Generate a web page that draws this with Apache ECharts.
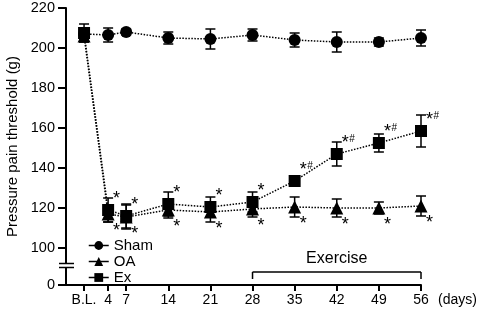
<!DOCTYPE html>
<html>
<head>
<meta charset="utf-8">
<script src="https://cdn.jsdelivr.net/npm/echarts@6/dist/echarts.min.js"></script>
<style>
	html, body { margin: 0; padding: 0; background: #fff; }
	#chart { width: 484px; height: 318px; }
</style>
</head>
<body>
<div id="chart"></div>
<script>
// days after induction (0 = baseline)
var days = [0, 4, 7, 14, 21, 28, 35, 42, 49, 56];
var dayLabels = ['B.L.', '4', '7', '14', '21', '28', '35', '42', '49', '56'];
var yTicks = [81.5, 100, 120, 140, 160, 180, 200, 220];

var shamMean = [207, 206.5, 208, 205, 204.5, 206.5, 204, 203, 203, 205];
var shamErr = [3, 3.5, 1.5, 3, 5, 3, 3.5, 5, 2, 4];
var oaMean = [206, 117, 115.5, 119, 118, 119.5, 120.5, 120, 120, 121];
var oaErr = [3, 4, 6, 4, 5, 4, 5, 4.5, 3, 5];
var exMean = [207.5, 119, 116, 122, 120.5, 123, 133.5, 147, 152.5, 158.5];
var exErr = [4.5, 6, 6, 6, 5, 5, 2.5, 6, 4.5, 8];

// significance marks
var oaMarks = ['', '*', '*', '*', '*', '*', '*', '*', '*', '*'];
var exMarks = ['', '*', '*', '*', '*', '*', '*#', '*#', '*#', '*#'];

var exerciseRange = [28, 56];

var FONT = 'Liberation Sans, Arial, sans-serif';

function pairs(mean) {
	return days.map(function(d, i) { return [d, mean[i]]; });
}

function errRows(mean, err) {
	return days.map(function(d, i) { return [d, mean[i] - err[i], mean[i] + err[i]]; });
}

function markRows(mean, marks) {
	return days.map(function(d, i) { return [d, mean[i], marks[i]]; });
}

function errorBarItem(params, api) {
	var x = api.value(0);
	var lo = api.coord([x, api.value(1)]);
	var hi = api.coord([x, api.value(2)]);
	var half = 5;
	var st = { stroke: '#000', lineWidth: 1.5 };
	return {
		type: 'group',
		children: [
			{ type: 'line', shape: { x1: lo[0], y1: lo[1], x2: hi[0], y2: hi[1] }, style: st },
			{ type: 'line', shape: { x1: lo[0] - half, y1: lo[1], x2: lo[0] + half, y2: lo[1] }, style: st },
			{ type: 'line', shape: { x1: hi[0] - half, y1: hi[1], x2: hi[0] + half, y2: hi[1] }, style: st }
		]
	};
}

// '*' drawn large, '#' small and raised next to it
function markItem(dy) {
	return function(params, api) {
		var p = api.coord([api.value(0), api.value(1)]);
		var mark = String(api.value(2));
		var kids = [];
		if (mark.indexOf('*') >= 0) {
			kids.push({
				type: 'text', x: p[0] + 5, y: p[1] + dy,
				style: { text: '*', fill: '#000', font: '18px ' + FONT, align: 'left', verticalAlign: 'middle' }
			});
		}
		if (mark.indexOf('#') >= 0) {
			kids.push({
				type: 'text', x: p[0] + 12.5, y: p[1] + dy - 4,
				style: { text: '#', fill: '#000', font: '10px ' + FONT, align: 'left', verticalAlign: 'middle' }
			});
		}
		return { type: 'group', children: kids };
	};
}

function lineSeries(name, symbol, mean, size) {
	return {
		name: name,
		type: 'line',
		data: pairs(mean),
		symbol: symbol,
		symbolSize: size,
		showAllSymbol: true,
		z: 5,
		lineStyle: { color: '#000', width: 1.5, type: 'dotted' },
		itemStyle: { color: '#000' },
		animation: false
	};
}

var chart = echarts.init(document.getElementById('chart'));

var option = {
	animation: false,
	textStyle: { fontFamily: FONT, color: '#000' },
	grid: { left: 66, right: 63, top: 8, bottom: 33, containLabel: false, outerBoundsMode: 'none' },
	legend: {
		data: ['Sham', 'OA', 'Ex'],
		orient: 'vertical',
		left: 83,
		top: 233,
		itemWidth: 20,
		itemHeight: 11,
		itemGap: 1,
		lineStyle: { type: 'solid', width: 1.5, color: '#000' },
		textStyle: { fontSize: 15, lineHeight: 15, color: '#000', fontFamily: FONT }
	},
	xAxis: {
		type: 'value',
		min: -3,
		max: 56,
		name: '(days)',
		nameLocation: 'end',
		nameGap: 17,
		nameTextStyle: { fontSize: 14, verticalAlign: 'top', padding: [8, 0, 0, 0] },
		splitLine: { show: false },
		axisLine: { onZero: false, lineStyle: { color: '#000', width: 2 } },
		axisTick: { customValues: days, length: 6, lineStyle: { color: '#000', width: 2 } },
		axisLabel: {
			customValues: days,
			fontSize: 14,
			color: '#000',
			margin: 8,
			formatter: function(v) {
				var i = days.indexOf(v);
				return i >= 0 ? dayLabels[i] : '';
			}
		}
	},
	yAxis: {
		type: 'value',
		min: 81.5,
		max: 220,
		name: 'Pressure pain threshold (g)',
		nameLocation: 'middle',
		nameGap: 44,
		nameTextStyle: { fontSize: 15 },
		splitLine: { show: false },
		axisLine: { onZero: false, lineStyle: { color: '#000', width: 2 } },
		axisTick: { customValues: yTicks, length: 8, lineStyle: { color: '#000', width: 2 } },
		axisLabel: {
			customValues: yTicks,
			fontSize: 14.5,
			color: '#000',
			margin: 11,
			formatter: function(v) { return v < 90 ? '0' : String(v); }
		}
	},
	graphic: [
		{ type: 'rect', shape: { x: 58, y: 264, width: 18, height: 3 }, style: { fill: '#fff' }, z: 100 },
		{ type: 'line', shape: { x1: 59, y1: 263.5, x2: 74, y2: 263.5 }, style: { stroke: '#000', lineWidth: 1.5 }, z: 101 },
		{ type: 'line', shape: { x1: 59, y1: 267.5, x2: 74, y2: 267.5 }, style: { stroke: '#000', lineWidth: 1.5 }, z: 101 }
	],
	series: [
		{ type: 'custom', renderItem: errorBarItem, data: errRows(shamMean, shamErr), encode: { x: 0, y: [1, 2] }, z: 3, silent: true },
		{ type: 'custom', renderItem: errorBarItem, data: errRows(oaMean, oaErr), encode: { x: 0, y: [1, 2] }, z: 3, silent: true },
		{ type: 'custom', renderItem: errorBarItem, data: errRows(exMean, exErr), encode: { x: 0, y: [1, 2] }, z: 3, silent: true },
		lineSeries('Sham', 'circle', shamMean, 12),
		lineSeries('OA', 'triangle', oaMean, 13),
		lineSeries('Ex', 'rect', exMean, 12),
		{ type: 'custom', renderItem: markItem(-11), data: markRows(exMean, exMarks), encode: { x: 0, y: 1 }, z: 6, silent: true },
		{ type: 'custom', renderItem: markItem(17), data: markRows(oaMean, oaMarks), encode: { x: 0, y: 1 }, z: 6, silent: true },
		{
			// exercise period bracket
			type: 'custom',
			silent: true,
			z: 6,
			data: [[exerciseRange[0], exerciseRange[1]]],
			encode: { x: [0, 1] },
			renderItem: function(params, api) {
				var a = api.coord([api.value(0), 88]);
				var b = api.coord([api.value(1), 88]);
				var st = { stroke: '#000', lineWidth: 1.5 };
				return {
					type: 'group',
					children: [
						{ type: 'line', shape: { x1: a[0], y1: a[1], x2: b[0], y2: b[1] }, style: st },
						{ type: 'line', shape: { x1: a[0], y1: a[1], x2: a[0], y2: a[1] + 7 }, style: st },
						{ type: 'line', shape: { x1: b[0], y1: b[1], x2: b[0], y2: b[1] + 7 }, style: st },
						{
							type: 'text', x: (a[0] + b[0]) / 2, y: a[1] - 13,
							style: { text: 'Exercise', fill: '#000', font: '16px ' + FONT, align: 'center', verticalAlign: 'middle' }
						}
					]
				};
			}
		}
	]
};

chart.setOption(option);
</script>
</body>
</html>
